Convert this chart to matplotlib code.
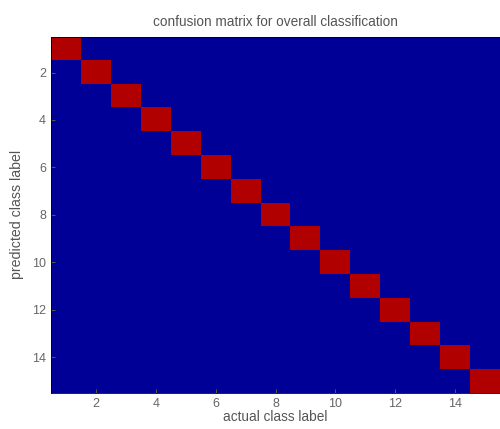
import numpy
from matplotlib import pyplot
from matplotlib.colors import ListedColormap

# Data
classes = list(range(1, 16))
correct = [1.0] * 15           # fraction correctly classified per class (diagonal)
tickValues = [2, 4, 6, 8, 10, 12, 14]

matrix = numpy.diag(correct)

pyplot.rcParams["font.family"] = ["Liberation Sans", "DejaVu Sans"]

# ends of the jet map, as they come out in the picture
colormap = ListedColormap(["#000096", "#B00000"])

figure = pyplot.figure(figsize=(5, 4.29), dpi=100)
axis = figure.add_axes([0.102, 0.084, 0.898, 0.830])

axis.imshow(matrix, cmap=colormap, vmin=0, vmax=1, aspect="auto", interpolation="nearest",
            extent=[classes[0] - 0.5, classes[-1] + 0.5, classes[-1] + 0.5, classes[0] - 0.5])

axis.set_xticks(tickValues)
axis.set_yticks(tickValues)
axis.tick_params(direction="in", length=3, colors="#555555", labelsize=9, labelcolor="#666666")
for spine in axis.spines.values():
    spine.set_linewidth(0.6)

axis.set_title("confusion matrix for overall classification", fontsize=9.8, color="#555555", pad=8)
axis.set_xlabel("actual class label", fontsize=9.8, color="#555555", labelpad=0)
axis.set_ylabel("predicted class label", fontsize=10.2, color="#555555", labelpad=6)

pyplot.savefig("out.png", dpi=100)
